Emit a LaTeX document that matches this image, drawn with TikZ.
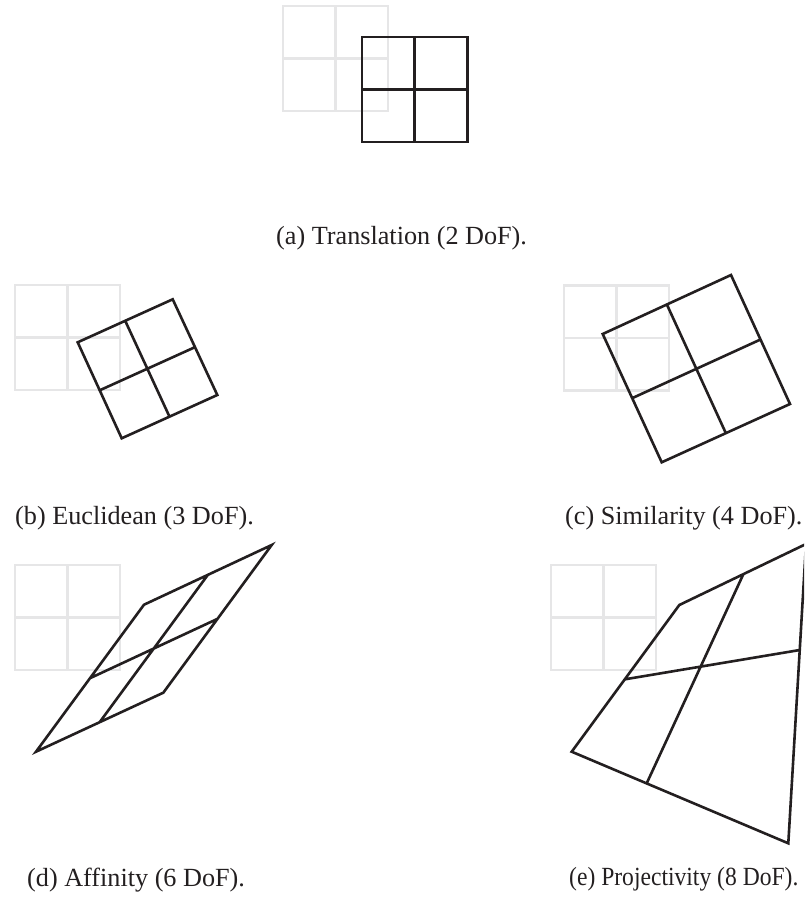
\documentclass[tikz,border=0pt]{standalone}
\usepackage{fontspec}
\setmainfont{Liberation Serif}
\usetikzlibrary{calc}
\definecolor{ink}{RGB}{35,31,32}
\definecolor{ghost}{RGB}{230,230,231}
\newcommand{\refgrid}[3]{% left, top, size
  \draw[refline] (#1,#2) rectangle ({#1+#3},{#2+#3})
    ({#1+#3/2},#2) -- ({#1+#3/2},{#2+#3})
    (#1,{#2+#3/2}) -- ({#1+#3},{#2+#3/2});}
\newcommand{\quadgrid}[4]{% TL, TR, BR, BL (parallelogram)
  \draw[moved] #1 -- #2 -- #3 -- #4 -- cycle
    ($#1!.5!#2$) -- ($#4!.5!#3$)
    ($#1!.5!#4$) -- ($#2!.5!#3$);}
\begin{document}
\begin{tikzpicture}[x=1pt,y=-1pt,
  refline/.style={draw=ghost, line width=2.2pt},
  moved/.style={draw=ink, line width=2.6pt, line join=miter},
  subcaption/.style={font=\fontsize{26.2}{30}\selectfont, anchor=base west, inner sep=0pt, text=ink}]
\useasboundingbox (0,0) rectangle (804,897);
\clip (0,0) rectangle (804,897);
% (a) translation
\refgrid{283}{6}{105}
\quadgrid{(362,37)}{(467.5,37)}{(467.5,142)}{(362,142)}
\node[subcaption] (capa) at (276,244) {(a) Translation (2 DoF).};
% (b) Euclidean
\refgrid{15}{285}{105}
\quadgrid{(77.7,342.3)}{(172.7,299.3)}{(217.3,395)}{(121.7,438.3)}
\node[subcaption] (capb) at (15,524) {(b) Euclidean (3 DoF).};
% (c) similarity
\refgrid{564}{285.5}{105}
\quadgrid{(602.7,334)}{(731,275)}{(790,404)}{(661.7,462.3)}
\node[subcaption] (capc) at (565,524) {(c) Similarity (4 DoF).};
% (d) affinity
\refgrid{15}{565}{105}
\quadgrid{(144,604.7)}{(271.7,545)}{(163.3,692.7)}{(36,751.7)}
\node[subcaption] (capd) at (27,886) {(d) Affinity (6 DoF).};
% (e) projectivity
\refgrid{551}{565}{105}
\coordinate (eTL) at (679.3,605);
\coordinate (eTR) at (806,544);
\coordinate (eBR) at (788.3,843.3);
\coordinate (eBL) at (571.7,751.7);
\coordinate (eT) at (743.3,574.3);
\coordinate (eR) at (799.8,650);
\coordinate (eB) at (646.7,783.3);
\coordinate (eL) at (625,679.3);
\draw[moved] (eTL) -- (eTR) -- (eBR) -- (eBL) -- cycle
  (eT) -- (eB) (eL) -- (eR);
\node[subcaption] (cape) at (569,885) {\scalebox{0.9}[1]{(e) Projectivity (8 DoF).}};
\end{tikzpicture}
\end{document}
